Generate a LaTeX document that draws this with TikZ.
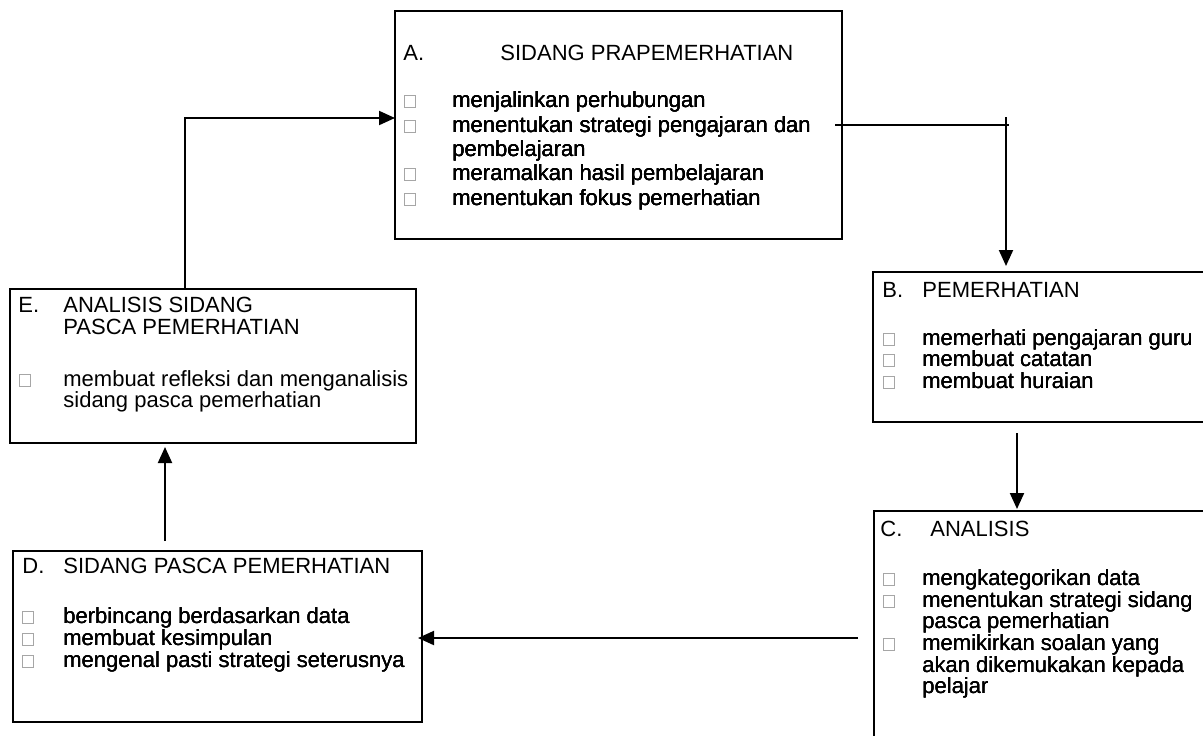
\documentclass[tikz,border=0pt]{standalone}
\usepackage{fontspec}
\setmainfont{Liberation Sans}
\usetikzlibrary{arrows.meta}
\usetikzlibrary{calc}

\tikzset{
  box/.style = {draw, line width=1pt, anchor=north west, inner sep=0pt, outer sep=0pt},
  txt/.style = {anchor=base west, inner sep=0pt},
  conn/.style = {line width=1pt, -{Triangle[length=8pt, width=7pt]}},
}
% kotak kecil kelabu di depan setiap butir
\newcommand{\bul}[2]{\draw[gray!70, line width=0.4pt] (#1,#2) rectangle ++(11,-12);}

\begin{document}
\begin{tikzpicture}[x=0.5pt, y=-0.5pt, font=\fontsize{11}{13}\selectfont]
  \useasboundingbox (0,0) rectangle (1203,735);
  \clip (0,0) rectangle (1203,735);

  % Kotak A
  \node[box, minimum width=223.5pt, minimum height=114pt] (A) at (395,11) {};
  \node[txt] (Ah) at (403,60) {A.};
  \node[txt] (At) at (500,60) {SIDANG PRAPEMERHATIAN};
  \foreach \y in {107,132,180,205} \bul{404}{\y}
  \foreach \y/\t [count=\i] in {107/menjalinkan perhubungan, 132/menentukan strategi pengajaran dan,
      156/pembelajaran, 180/meramalkan hasil pembelajaran, 205/menentukan fokus pemerhatian}
    \node[txt] (A\i) at (452,\y) {\t};

  % Kotak B
  \node[box, minimum width=200pt, minimum height=75pt] (B) at (873,272) {};
  \node[txt] (Bh) at (882,297) {B.};
  \node[txt] (Bt) at (922,297) {PEMERHATIAN};
  \foreach \y in {345,366,388} \bul{883}{\y}
  \foreach \y/\t [count=\i] in {345/memerhati pengajaran guru, 366/membuat catatan, 388/membuat huraian}
    \node[txt] (B\i) at (922,\y) {\t};

  % Kotak C
  \node[box, minimum width=200pt, minimum height=150pt] (C) at (874,511) {};
  \node[txt] (Ch) at (880,536) {C.};
  \node[txt] (Ct) at (930,536) {ANALISIS};
  \foreach \y in {585,607,650} \bul{883}{\y}
  \foreach \y/\t [count=\i] in {585/mengkategorikan data, 607/menentukan strategi sidang,
      628/pasca pemerhatian, 650/memikirkan soalan yang, 672/akan dikemukakan kepada, 693/pelajar}
    \node[txt] (C\i) at (922,\y) {\t};

  % Kotak D
  \node[box, minimum width=204.5pt, minimum height=85.5pt] (D) at (13,551) {};
  \node[txt] (Dh) at (22,573) {D.};
  \node[txt] (Dt) at (63,573) {SIDANG PASCA PEMERHATIAN};
  \foreach \y in {623,645,667} \bul{22}{\y}
  \foreach \y/\t [count=\i] in {623/berbincang berdasarkan data, 645/membuat kesimpulan,
      667/mengenal pasti strategi seterusnya}
    \node[txt] (D\i) at (63,\y) {\t};

  % Kotak E
  \node[box, minimum width=203pt, minimum height=77pt] (E) at (10,289) {};
  \node[txt] (Eh) at (18,312) {E.};
  \node[txt] (Et1) at (63,312) {ANALISIS SIDANG};
  \node[txt] (Et2) at (63,334) {PASCA PEMERHATIAN};
  \bul{19}{386}
  \foreach \y/\t [count=\i] in {386/membuat refleksi dan menganalisis, 407/sidang pasca pemerhatian}
    \node[txt] (E\i) at (63,\y) {\t};

  % Anak panah
  \coordinate (ab) at (1006,117);
  \draw[line width=0.7pt] ($(A.east)+(-7,0)$) -- ++(174,0);
  \draw[conn] (ab) -- ($(ab |- B.north)+(0,-6)$);

  \coordinate (bc) at (1017,433);
  \draw[conn] (bc) -- ($(bc |- C.north)+(0,-2)$);

  \coordinate (cd) at (858,638);
  \draw[conn] (cd) -- ($(cd -| D.east)+(-4,0)$);

  \coordinate (de) at (165,541);
  \draw[conn] (de) -- ($(de |- E.south)+(0,4)$);

  \coordinate (ea) at (185,289);
  \draw[conn] (ea |- E.north) |- ($(A.west)+(0,-7)$);
\end{tikzpicture}
\end{document}
